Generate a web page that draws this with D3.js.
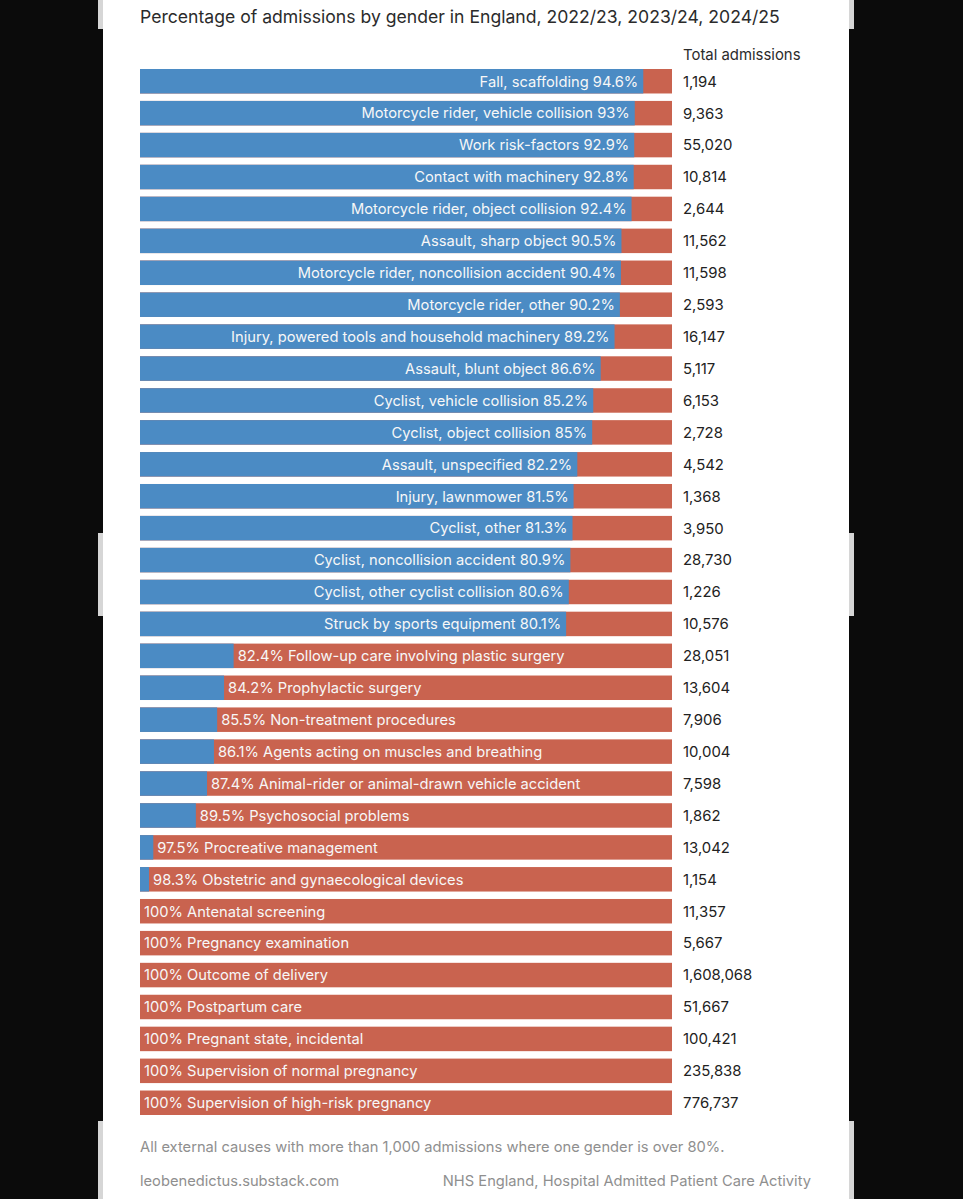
<!DOCTYPE html>
<html>
<head>
<meta charset="utf-8">
<script src="https://cdn.jsdelivr.net/npm/d3@7"></script>
<style>
  html, body { margin: 0; padding: 0; background: #0b0b0b; }
  svg { display: block; }
</style>
</head>
<body>
<svg id="chart" width="963" height="1199"></svg>
<script>
// categories, top to bottom
var categories = [
  "Fall, scaffolding",
  "Motorcycle rider, vehicle collision",
  "Work risk-factors",
  "Contact with machinery",
  "Motorcycle rider, object collision",
  "Assault, sharp object",
  "Motorcycle rider, noncollision accident",
  "Motorcycle rider, other",
  "Injury, powered tools and household machinery",
  "Assault, blunt object",
  "Cyclist, vehicle collision",
  "Cyclist, object collision",
  "Assault, unspecified",
  "Injury, lawnmower",
  "Cyclist, other",
  "Cyclist, noncollision accident",
  "Cyclist, other cyclist collision",
  "Struck by sports equipment",
  "Follow-up care involving plastic surgery",
  "Prophylactic surgery",
  "Non-treatment procedures",
  "Agents acting on muscles and breathing",
  "Animal-rider or animal-drawn vehicle accident",
  "Psychosocial problems",
  "Procreative management",
  "Obstetric and gynaecological devices",
  "Antenatal screening",
  "Pregnancy examination",
  "Outcome of delivery",
  "Postpartum care",
  "Pregnant state, incidental",
  "Supervision of normal pregnancy",
  "Supervision of high-risk pregnancy"
];

// share of the leading gender (%), as printed
var shares = [94.6, 93, 92.9, 92.8, 92.4, 90.5, 90.4, 90.2, 89.2, 86.6, 85.2, 85,
  82.2, 81.5, 81.3, 80.9, 80.6, 80.1,
  82.4, 84.2, 85.5, 86.1, 87.4, 89.5, 97.5, 98.3, 100, 100, 100, 100, 100, 100, 100];

// which gender leads: M = male, F = female
var leaders = ["M","M","M","M","M","M","M","M","M","M","M","M","M","M","M","M","M","M",
  "F","F","F","F","F","F","F","F","F","F","F","F","F","F","F"];

var totals = [1194, 9363, 55020, 10814, 2644, 11562, 11598, 2593, 16147, 5117, 6153, 2728,
  4542, 1368, 3950, 28730, 1226, 10576,
  28051, 13604, 7906, 10004, 7598, 1862, 13042, 1154, 11357, 5667, 1608068, 51667,
  100421, 235838, 776737];

var BLUE = "#4b8bc4",
    RED = "#c9634f",
    FONT = "Inter, 'Noto Sans', sans-serif";

var svg = d3.select("#chart");

// page: black backdrop, white card, grey screenshot strips at the edges
svg.append("rect").attr("width", 963).attr("height", 1199).attr("fill", "#0b0b0b");
var strips = [[0, 29], [533, 616], [1121, 1199]];
strips.forEach(function(s){
  svg.append("rect").attr("x", 98).attr("y", s[0]).attr("width", 756).attr("height", s[1] - s[0]).attr("fill", "#d6d6d6");
});
svg.append("rect").attr("x", 103).attr("y", 0).attr("width", 746).attr("height", 1199).attr("fill", "#ffffff");

var data = categories.map(function(c, i){
  var male = leaders[i] == "M" ? shares[i] : 100 - shares[i];
  return {cat: c, share: shares[i], leader: leaders[i], male: male, total: totals[i]};
});

var xScale = d3.scaleLinear().domain([0, 100]).range([140, 672]);
var yScale = d3.scaleBand()
    .domain(categories)
    .range([69, 1115])
    .paddingInner(0.233)
    .paddingOuter(0);

// title
svg.append("text")
    .attr("x", 140).attr("y", 23)
    .attr("font-family", FONT).attr("font-size", 17.6)
    .attr("fill", "#2b2b2b")
    .text("Percentage of admissions by gender in England, 2022/23, 2023/24, 2024/25");

svg.append("text")
    .attr("x", 683).attr("y", 60)
    .attr("font-family", FONT).attr("font-size", 14.9)
    .attr("fill", "#2b2b2b")
    .text("Total admissions");

var rows = svg.selectAll("g.row")
    .data(data)
  .enter().append("g")
    .attr("class", "row")
    .attr("transform", function(d){ return "translate(0," + yScale(d.cat) + ")"; });

// female part (full width), male part over it
rows.append("rect")
    .attr("x", xScale(0))
    .attr("width", xScale(100) - xScale(0))
    .attr("height", yScale.bandwidth())
    .attr("fill", RED);

rows.append("rect")
    .attr("x", xScale(0))
    .attr("width", function(d){ return xScale(d.male) - xScale(0); })
    .attr("height", yScale.bandwidth())
    .attr("fill", BLUE);

// bar labels
rows.append("text")
    .attr("x", function(d){
        return d.leader == "M" ? xScale(d.male) - 5 : xScale(d.male) + 4;
    })
    .attr("y", yScale.bandwidth() / 2)
    .attr("dy", "0.36em")
    .attr("text-anchor", function(d){ return d.leader == "M" ? "end" : "start"; })
    .attr("font-family", FONT).attr("font-size", 14.7)
    .attr("fill", "#f7f7f7")
    .text(function(d){
        return d.leader == "M" ? d.cat + " " + d.share + "%" : d.share + "% " + d.cat;
    });

// totals
rows.append("text")
    .attr("x", 683)
    .attr("y", yScale.bandwidth() / 2)
    .attr("dy", "0.36em")
    .attr("font-family", FONT).attr("font-size", 14.9)
    .attr("fill", "#222222")
    .text(function(d){ return d3.format(",")(d.total); });

// footer
svg.append("text")
    .attr("x", 140).attr("y", 1152)
    .attr("font-family", FONT).attr("font-size", 14.7)
    .attr("fill", "#8f8f8f")
    .text("All external causes with more than 1,000 admissions where one gender is over 80%.");

svg.append("text")
    .attr("x", 140).attr("y", 1186)
    .attr("font-family", FONT).attr("font-size", 14.7)
    .attr("fill", "#8f8f8f")
    .text("leobenedictus.substack.com");

svg.append("text")
    .attr("x", 811).attr("y", 1186)
    .attr("text-anchor", "end")
    .attr("font-family", FONT).attr("font-size", 14.7)
    .attr("fill", "#8f8f8f")
    .text("NHS England, Hospital Admitted Patient Care Activity");
</script>
</body>
</html>
